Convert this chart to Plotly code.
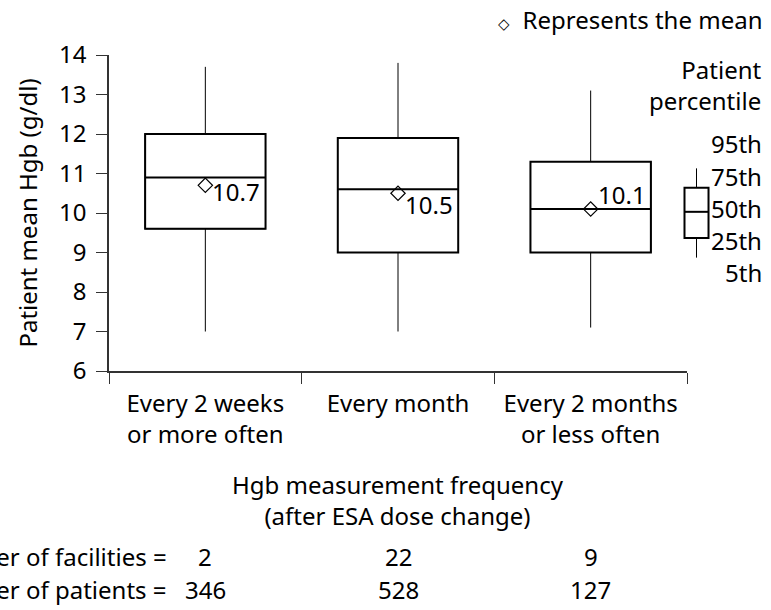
import plotly.graph_objects as go

categories = ["Every 2 weeks<br>or more often", "Every month", "Every 2 months<br>or less often"]
p5 = [7.0, 7.0, 7.1]
q1 = [9.6, 9.0, 9.0]
median = [10.9, 10.6, 10.1]
q3 = [12.0, 11.9, 11.3]
p95 = [13.7, 13.8, 13.1]
means = [10.7, 10.5, 10.1]
facilities = [2, 22, 9]
patients = [346, 528, 127]
pct_labels = ["95th", "75th", "50th", "25th", "5th"]
legend_box = {"p5": 8.87, "q1": 9.37, "median": 10.03, "q3": 10.64, "p95": 11.13}

FONT = "Noto Sans"
FS = 24

fig = go.Figure()
# whiskers (thin)
fig.add_trace(go.Box(
    x=categories, q1=q1, median=median, q3=q3, lowerfence=p5, upperfence=p95,
    width=0.625, whiskerwidth=0, line=dict(color="black", width=1),
    fillcolor="white", boxpoints=False, hoverinfo="skip", showlegend=False))
# boxes (thick)
fig.add_trace(go.Box(
    x=categories, q1=q1, median=median, q3=q3, lowerfence=q1, upperfence=q3,
    width=0.625, whiskerwidth=0, line=dict(color="black", width=2),
    fillcolor="white", boxpoints=False, showlegend=False))
# means
fig.add_trace(go.Scatter(
    x=categories, y=means, mode="markers",
    marker=dict(symbol="diamond-open", size=11, color="black", line=dict(width=1.2)),
    showlegend=False))

shifts = [(-6), (-11), (15)]
for c, m, ys in zip(categories, means, shifts):
    fig.add_annotation(x=c, y=m, xref="x", yref="y", text=f"{m:.1f}", showarrow=False,
                       xanchor="left", yanchor="middle", xshift=5, yshift=ys,
                       font=dict(family=FONT, size=FS, color="black"))

# counts rows
fig.add_annotation(x=(169 - 109.5) / 577.5, y=(371.5 - 557) / 316, xref="paper", yref="paper",
                   text="Number of facilities =", showarrow=False, xanchor="right", yanchor="middle",
                   font=dict(family=FONT, size=FS, color="black"))
fig.add_annotation(x=(169 - 109.5) / 577.5, y=(371.5 - 590) / 316, xref="paper", yref="paper",
                   text="Number of patients =", showarrow=False, xanchor="right", yanchor="middle",
                   font=dict(family=FONT, size=FS, color="black"))
for c, f, p in zip(categories, facilities, patients):
    fig.add_annotation(x=c, y=(371.5 - 557) / 316, xref="x", yref="paper", text=str(f),
                       showarrow=False, xanchor="center", yanchor="middle",
                       font=dict(family=FONT, size=FS, color="black"))
    fig.add_annotation(x=c, y=(371.5 - 590) / 316, xref="x", yref="paper", text=str(p),
                       showarrow=False, xanchor="center", yanchor="middle",
                       font=dict(family=FONT, size=FS, color="black"))

# x-axis title
fig.add_annotation(x=0.5, y=(371.5 - 500) / 316, xref="paper", yref="paper",
                   text="Hgb measurement frequency<br>(after ESA dose change)", showarrow=False,
                   xanchor="center", yanchor="middle",
                   font=dict(family=FONT, size=FS, color="black"))

# legend: mean note
XR = (764 - 109.5) / 577.5
fig.add_annotation(x=XR, y=(371.5 - 20) / 316, xref="paper", yref="paper",
                   text="<span style='font-size:15px'>◇</span>  Represents the mean", showarrow=False,
                   xanchor="right", yanchor="middle",
                   font=dict(family=FONT, size=FS, color="black"))
fig.add_annotation(x=XR, y=(371.5 - 86) / 316, xref="paper", yref="paper",
                   text="Patient<br>percentile", showarrow=False, align="right",
                   xanchor="right", yanchor="middle",
                   font=dict(family=FONT, size=FS, color="black"))
pct_y = [144, 176.5, 208.5, 240.5, 273]
for lab, py in zip(pct_labels, pct_y):
    fig.add_annotation(x=XR, y=(371.5 - py) / 316, xref="paper", yref="paper",
                       text=lab, showarrow=False, xanchor="right", yanchor="middle",
                       font=dict(family=FONT, size=FS, color="black"))

# legend mini box
bx0 = (684.5 - 109.5) / 577.5
bx1 = (708.5 - 109.5) / 577.5
bxc = (bx0 + bx1) / 2
fig.add_shape(type="line", xref="paper", yref="y", x0=bxc, x1=bxc,
              y0=legend_box["p5"], y1=legend_box["p95"], line=dict(color="black", width=1))
fig.add_shape(type="rect", xref="paper", yref="y", x0=bx0, x1=bx1,
              y0=legend_box["q1"], y1=legend_box["q3"], fillcolor="white",
              line=dict(color="black", width=2))
fig.add_shape(type="line", xref="paper", yref="y", x0=bx0, x1=bx1,
              y0=legend_box["median"], y1=legend_box["median"], line=dict(color="black", width=2))

fig.update_layout(
    width=771, height=610,
    margin=dict(l=109, r=84, t=55, b=239),
    paper_bgcolor="white", plot_bgcolor="white",
    font=dict(family=FONT, size=FS, color="black"),
    boxmode="overlay",
    xaxis=dict(showline=True, linecolor="#333", linewidth=1.5, ticks="outside",
               ticklen=11, tickcolor="#333", tickwidth=1, showgrid=False,
               tickson="boundaries", range=[-0.5, 2.5], ticklabelstandoff=10,
               tickfont=dict(family=FONT, size=FS)),
    yaxis=dict(showline=True, linecolor="#333", linewidth=1.5, ticks="outside",
               ticklen=11, tickcolor="#333", tickwidth=1, showgrid=False, zeroline=False,
               range=[6, 14], dtick=1, ticklabelstandoff=5, tickfont=dict(family=FONT, size=FS),
               title=dict(text="Patient mean Hgb (g/dl)", standoff=15,
                          font=dict(family=FONT, size=FS))),
)

fig.write_html("out.html")
